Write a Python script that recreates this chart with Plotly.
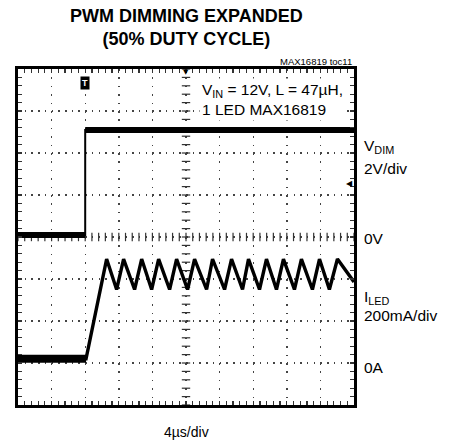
import numpy as np
import plotly.graph_objects as go

# ---------------- data ----------------
# time in microseconds (4 us/div, 10 div)
vdim_t = [0.0, 8.0, 8.0, 40.0]
vdim_v = [0.1, 0.1, 5.1, 5.1]          # volts (2 V/div, 0 V at centre)

iled_t = [0.0, 8.1, 10.55, 11.74, 12.57, 13.88, 14.72, 15.91, 16.74, 18.05,
          18.88, 20.19, 21.02, 22.45, 23.16, 24.59, 25.42, 26.73, 27.44,
          28.75, 29.58, 30.77, 31.60, 32.91, 33.74, 35.05, 35.89, 37.07,
          38.03, 40.0]
iled_ma = [20, 20, 495, 350, 495, 350, 495, 350, 495, 350,
           495, 350, 495, 350, 495, 350, 495, 350, 495,
           350, 495, 350, 495, 350, 495, 350, 495, 350,
           495, 386]                   # mA (200 mA/div, 0 A one div above bottom)

FONT = "Liberation Sans, Arial, sans-serif"


def flat_segments(xs, ys):
    ox, oy = [], []
    for i in range(len(xs) - 1):
        if ys[i] == ys[i + 1]:
            ox += [xs[i], xs[i + 1], None]
            oy += [ys[i], ys[i + 1], None]
    return ox, oy


fig = go.Figure()

# centre-line cross ticks (graticule decoration)
cx = np.arange(0, 40.001, 0.8)
fig.add_trace(go.Scatter(x=cx, y=[0] * len(cx), mode="markers", yaxis="y",
                         marker=dict(symbol="line-ns", size=6,
                                     line=dict(width=1.2, color="#333")),
                         hoverinfo="skip", showlegend=False))
cy = np.arange(-8, 8.001, 0.4)
fig.add_trace(go.Scatter(x=[20] * len(cy), y=cy, mode="markers", yaxis="y",
                         marker=dict(symbol="line-ew", size=6,
                                     line=dict(width=1.2, color="#333")),
                         hoverinfo="skip", showlegend=False))

# VDIM trace
fig.add_trace(go.Scatter(x=vdim_t, y=vdim_v, mode="lines", yaxis="y",
                         line=dict(color="black", width=2),
                         hoverinfo="skip", showlegend=False))
sx, sy = flat_segments(vdim_t, vdim_v)
fig.add_trace(go.Scatter(x=sx, y=sy, mode="lines", yaxis="y",
                         line=dict(color="black", width=6),
                         hoverinfo="skip", showlegend=False))

# ILED trace
fig.add_trace(go.Scatter(x=iled_t, y=iled_ma, mode="lines", yaxis="y2",
                         line=dict(color="black", width=3.4),
                         hoverinfo="skip", showlegend=False))
sx, sy = flat_segments(iled_t, iled_ma)
fig.add_trace(go.Scatter(x=sx, y=sy, mode="lines", yaxis="y2",
                         line=dict(color="black", width=8),
                         hoverinfo="skip", showlegend=False))

axis_common = dict(showline=True, linewidth=3, linecolor="black",
                   mirror="allticks", ticks="inside", ticklen=4,
                   tickwidth=1.2, tickcolor="#333", showticklabels=False,
                   zeroline=False, showgrid=True, gridcolor="#444",
                   gridwidth=1.4, fixedrange=True)

fig.update_layout(
    width=453, height=446,
    margin=dict(l=18, r=98.5, t=69, b=41),
    paper_bgcolor="white", plot_bgcolor="white",
    font=dict(family=FONT, color="black"),
    hovermode=False,
    xaxis=dict(range=[0, 40], dtick=4, tick0=0, griddash="1.5px,6.9px",
               minor=dict(dtick=0.8, ticks="inside", ticklen=4,
                          tickcolor="#333", tickwidth=1.2, showgrid=False),
               **axis_common),
    yaxis=dict(range=[-8, 8], dtick=2, tick0=0, griddash="1.5px,5.22px",
               minor=dict(dtick=0.4, ticks="inside", ticklen=4,
                          tickcolor="#333", tickwidth=1.2, showgrid=False),
               **axis_common),
    yaxis2=dict(range=[-200, 1400], overlaying="y", visible=False,
                fixedrange=True),
)

LBL = 15.5
ann = []
ann.append(dict(text="<b>PWM DIMMING EXPANDED<br>(50% DUTY CYCLE)</b>",
                xref="paper", yref="paper", x=0.5, y=1.125,
                xanchor="center", yanchor="middle", showarrow=False,
                font=dict(size=18, family=FONT)))
ann.append(dict(text="MAX16819 toc11", xref="paper", yref="paper",
                x=1.0, y=1.021, xanchor="right", yanchor="middle",
                showarrow=False, font=dict(size=9.5, family=FONT)))
ann.append(dict(text="V<sub>IN</sub> = 12V, L = 47µH,<br>1 LED MAX16819",
                xref="paper", yref="paper", x=0.54, y=0.91,
                xanchor="left", yanchor="middle", align="left",
                showarrow=False, bgcolor="white", borderpad=2,
                font=dict(size=LBL, family=FONT)))
for txt, py in [("V<sub>DIM</sub>", 0.768), ("2V/div", 0.705), ("0V", 0.497),
                ("I<sub>LED</sub>", 0.321), ("200mA/div", 0.265),
                ("0A", 0.113)]:
    ann.append(dict(text=txt, xref="paper", yref="paper", x=1.025, y=py,
                    xanchor="left", yanchor="middle", showarrow=False,
                    font=dict(size=LBL, family=FONT)))
ann.append(dict(text="4µs/div", xref="paper", yref="paper", x=0.5, y=-0.08,
                xanchor="center", yanchor="middle", showarrow=False,
                font=dict(size=14, family=FONT)))
# trigger marker
ann.append(dict(text="<b>T</b>", xref="x", yref="paper", x=8, y=0.958,
                xanchor="center", yanchor="middle", showarrow=False,
                bgcolor="black", borderpad=1,
                font=dict(size=9, color="white", family=FONT)))
ann.append(dict(text="▼", xref="x", yref="paper", x=20, y=0.99,
                xanchor="center", yanchor="middle", showarrow=False,
                font=dict(size=7, color="black", family="DejaVu Sans")))
ann.append(dict(text="◀", xref="paper", yref="y", x=0.988, y=2.57,
                xanchor="center", yanchor="middle", showarrow=False,
                font=dict(size=8, color="black", family="DejaVu Sans")))
fig.update_layout(annotations=ann)

# remove the browser's default 8px body margin so the figure sits at (0,0)
fig.write_html("out.html",
               config={"displayModeBar": False, "staticPlot": True},
               post_script="document.body.style.margin='0px';")
